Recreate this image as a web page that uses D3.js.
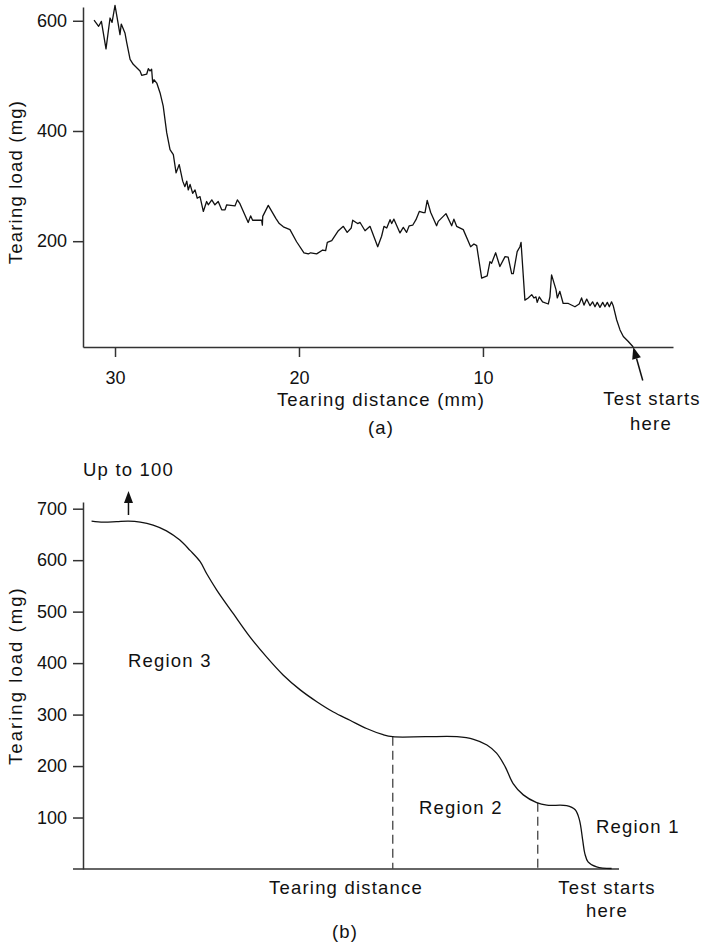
<!DOCTYPE html>
<html>
<head>
<meta charset="utf-8">
<script src="https://cdn.jsdelivr.net/npm/d3@7"></script>
<style>
body { margin: 0; background: #fff; }
svg { display: block; font-family: "Liberation Sans", Arial, sans-serif; }
.lbl { font-size: 18.5px; letter-spacing: 1.2px; fill: #111; }
.tick text { font-size: 18px; fill: #111; }
.axis path, .axis line { stroke: #333; stroke-width: 1.5; }
</style>
</head>
<body>
<svg width="702" height="946"></svg>
<script>
// (a) measured tearing trace: [distance mm, load mg]
var tearA = [
  [31.14,601],[30.89,590],[30.74,599],[30.49,549],[30.27,605],[30.16,597],[30.00,628],[29.82,593],
  [29.73,575],[29.66,594],[29.46,578],[29.36,560],[29.18,530],[29.01,521],[28.64,509],[28.55,501],
  [28.28,503],[28.19,513],[28.10,509],[28.01,512],[27.95,487],[27.88,493],[27.73,487],[27.55,469],
  [27.38,445],[27.19,397],[27.01,366],[26.83,357],[26.68,324],[26.51,339],[26.32,309],[26.20,299],
  [26.10,309],[26.02,293],[25.92,303],[25.78,287],[25.65,293],[25.53,278],[25.38,281],[25.20,254],
  [25.02,272],[24.93,266],[24.74,275],[24.57,266],[24.39,272],[24.20,257],[24.02,257],[23.93,266],
  [23.48,264],[23.35,275],[23.21,268],[22.76,234],[22.63,246],[22.52,238],[22.03,238],[21.99,229],
  [21.97,245],[21.67,265],[21.25,241],[21.07,232],[20.85,226],[20.49,221],[20.13,199],[19.73,179],
  [19.49,177],[19.36,179],[19.04,177],[18.71,184],[18.55,183],[18.46,198],[18.22,201],[17.86,219],
  [17.59,227],[17.38,216],[17.16,224],[17.08,238],[16.90,234],[16.81,232],[16.68,234],[16.41,219],
  [16.14,227],[15.72,190],[15.51,209],[15.38,227],[15.23,224],[15.05,239],[14.96,232],[14.84,240],
  [14.51,215],[14.33,225],[14.15,216],[14.01,228],[13.82,229],[13.64,239],[13.46,254],[13.24,252],
  [13.15,252],[13.03,274],[12.84,252],[12.52,228],[12.43,236],[12.01,250],[11.70,228],[11.58,240],
  [11.43,227],[11.07,221],[10.67,190],[10.49,195],[10.34,192],[10.07,133],[9.77,137],[9.62,163],
  [9.53,160],[9.31,179],[9.08,154],[8.80,172],[8.63,171],[8.44,141],[8.35,141],[8.14,181],
  [7.99,190],[7.93,198],[7.72,93],[7.54,97],[7.35,103],[7.23,97],[7.12,99],[7.05,89],
  [6.94,99],[6.76,90],[6.45,86],[6.36,99],[6.27,139],[6.03,112],[5.96,97],[5.82,109],
  [5.64,87],[5.36,87],[5.00,81],[4.77,86],[4.64,97],[4.51,84],[4.36,95],[4.18,83],
  [4.04,90],[3.91,81],[3.79,89],[3.64,80],[3.49,89],[3.37,81],[3.24,89],[3.13,81],
  [3.01,90],[2.92,83],[2.73,57],[2.55,39],[2.37,27],[2.10,18],[1.83,8]
];
var xTicksA = [30, 20, 10];
var yTicksA = [200, 400, 600];

// (b) idealised curve: [relative tearing distance, load mg]
var tearB = [
  [98.4,676],[96.2,674],[93.7,675],[91.5,676],[89.3,674],[86.9,668],[84.4,657],[81.9,639],
  [80.0,619],[78.1,597],[76.9,574],[75.0,542],[71.9,496],[68.8,451],[65.7,412],[62.6,377],
  [59.4,348],[56.3,325],[53.2,305],[50.1,289],[47.0,273],[43.9,261],[42.1,257],[36.0,257],
  [30.1,257],[27.0,252],[24.5,241],[22.7,225],[21.1,199],[19.6,166],[17.7,144],[15.2,129],
  [13.3,124],[9.6,123],[8.0,115],[7.2,95],[6.6,56],[6.2,30],[5.6,14],[4.0,4],[1.2,1]
];
var regionEdgesB = [42.1, 15.0];
var yTicksB = [100, 200, 300, 400, 500, 600, 700];
var regionNames = ["Region 3", "Region 2", "Region 1"];

var svg = d3.select("svg");

function loadAt(data, d) {
    for (var i = 0; i < data.length - 1; i++) {
        var a = data[i], b = data[i + 1];
        if ((a[0] - d) * (b[0] - d) <= 0) {
            var t = (d - a[0]) / (b[0] - a[0]);
            return a[1] + t * (b[1] - a[1]);
        }
    }
    return 0;
}

function arrow(g, x1, y1, x2, y2) {
    var dx = x2 - x1, dy = y2 - y1, len = Math.sqrt(dx * dx + dy * dy);
    var ux = dx / len, uy = dy / len, hl = 12, hw = 4.5;
    var bx = x2 - ux * hl, by = y2 - uy * hl;
    g.append("line")
        .attr("x1", x1).attr("y1", y1).attr("x2", bx).attr("y2", by)
        .attr("stroke", "#111").attr("stroke-width", 1.5);
    g.append("path")
        .attr("d", "M" + x2 + "," + y2 +
            "L" + (bx - uy * hw) + "," + (by + ux * hw) +
            "L" + (bx + uy * hw) + "," + (by - ux * hw) + "Z")
        .attr("fill", "#111");
}

// ---------- chart (a)
var xA = d3.scaleLinear().domain([31.74, -0.33]).range([83, 673]);
var yA = d3.scaleLinear().domain([8, 625]).range([347, 7]);

svg.append("g")
    .attr("class", "axis")
    .attr("transform", "translate(0,347)")
    .call(d3.axisBottom(xA).tickValues(xTicksA).tickSize(10).tickSizeOuter(0).tickPadding(14));

svg.append("g")
    .attr("class", "axis")
    .attr("transform", "translate(83,0)")
    .call(d3.axisLeft(yA).tickValues(yTicksA).tickSize(10).tickSizeOuter(0).tickPadding(6));

svg.append("path")
    .datum(tearA)
    .attr("fill", "none")
    .attr("stroke", "#111")
    .attr("stroke-width", 1.3)
    .attr("stroke-linejoin", "round")
    .attr("d", d3.line().x(function (d) { return xA(d[0]); }).y(function (d) { return yA(d[1]); }));

svg.append("text").attr("class", "lbl")
    .attr("transform", "translate(22,182) rotate(-90)")
    .attr("text-anchor", "middle")
    .text("Tearing load (mg)");

svg.append("text").attr("class", "lbl")
    .attr("x", 381).attr("y", 406).attr("text-anchor", "middle")
    .text("Tearing distance (mm)");
svg.append("text").attr("class", "lbl")
    .attr("x", 381).attr("y", 434).attr("text-anchor", "middle")
    .text("(a)");

var startA = tearA[tearA.length - 1];
var tipX = xA(startA[0]), tipY = yA(startA[1]);
arrow(svg, tipX + 9.5, tipY + 33.5, tipX, tipY);
svg.append("text").attr("class", "lbl")
    .attr("x", 652).attr("y", 405).attr("text-anchor", "middle")
    .text("Test starts");
svg.append("text").attr("class", "lbl")
    .attr("x", 651).attr("y", 430).attr("text-anchor", "middle")
    .text("here");

// ---------- chart (b)
var xB = d3.scaleLinear().domain([100, 0]).range([83, 618]);
var yB = d3.scaleLinear().domain([0, 713]).range([869, 502]);

svg.append("g")
    .attr("class", "axis")
    .attr("transform", "translate(83,0)")
    .call(d3.axisLeft(yB).tickValues(yTicksB).tickSize(10).tickSizeOuter(0).tickPadding(6));

svg.selectAll(".axis text").attr("font-family", null).attr("font-size", null);

svg.append("line")
    .attr("x1", 73).attr("x2", 619)
    .attr("y1", yB(0)).attr("y2", yB(0))
    .attr("stroke", "#333").attr("stroke-width", 1.5);

svg.selectAll(".edge")
    .data(regionEdgesB)
    .enter().append("line")
    .attr("class", "edge")
    .attr("x1", function (d) { return xB(d); })
    .attr("x2", function (d) { return xB(d); })
    .attr("y1", function (d) { return yB(loadAt(tearB, d)); })
    .attr("y2", yB(0))
    .attr("stroke", "#444")
    .attr("stroke-width", 1.3)
    .attr("stroke-dasharray", "9,5");

svg.append("path")
    .datum(tearB)
    .attr("fill", "none")
    .attr("stroke", "#111")
    .attr("stroke-width", 1.3)
    .attr("d", d3.line().curve(d3.curveCatmullRom.alpha(0.5))
        .x(function (d) { return xB(d[0]); }).y(function (d) { return yB(d[1]); }));

svg.append("text").attr("class", "lbl")
    .attr("transform", "translate(22,676) rotate(-90)")
    .attr("text-anchor", "middle")
    .attr("textLength", 178)
    .attr("lengthAdjust", "spacing")
    .text("Tearing load (mg)");

svg.append("text").attr("class", "lbl")
    .attr("x", 83).attr("y", 476)
    .text("Up to 100");
arrow(svg, xB(91.5), 515, xB(91.5), 491);

svg.append("text").attr("class", "lbl")
    .attr("x", 128).attr("y", 667).text(regionNames[0]);
svg.append("text").attr("class", "lbl")
    .attr("x", 419).attr("y", 814).text(regionNames[1]);
svg.append("text").attr("class", "lbl")
    .attr("x", 596).attr("y", 833).text(regionNames[2]);

svg.append("text").attr("class", "lbl")
    .attr("x", 346).attr("y", 894).attr("text-anchor", "middle")
    .text("Tearing distance");
svg.append("text").attr("class", "lbl")
    .attr("x", 607).attr("y", 894).attr("text-anchor", "middle")
    .text("Test starts");
svg.append("text").attr("class", "lbl")
    .attr("x", 607).attr("y", 917).attr("text-anchor", "middle")
    .text("here");
svg.append("text").attr("class", "lbl")
    .attr("x", 345).attr("y", 938).attr("text-anchor", "middle")
    .text("(b)");
</script>
</body>
</html>
